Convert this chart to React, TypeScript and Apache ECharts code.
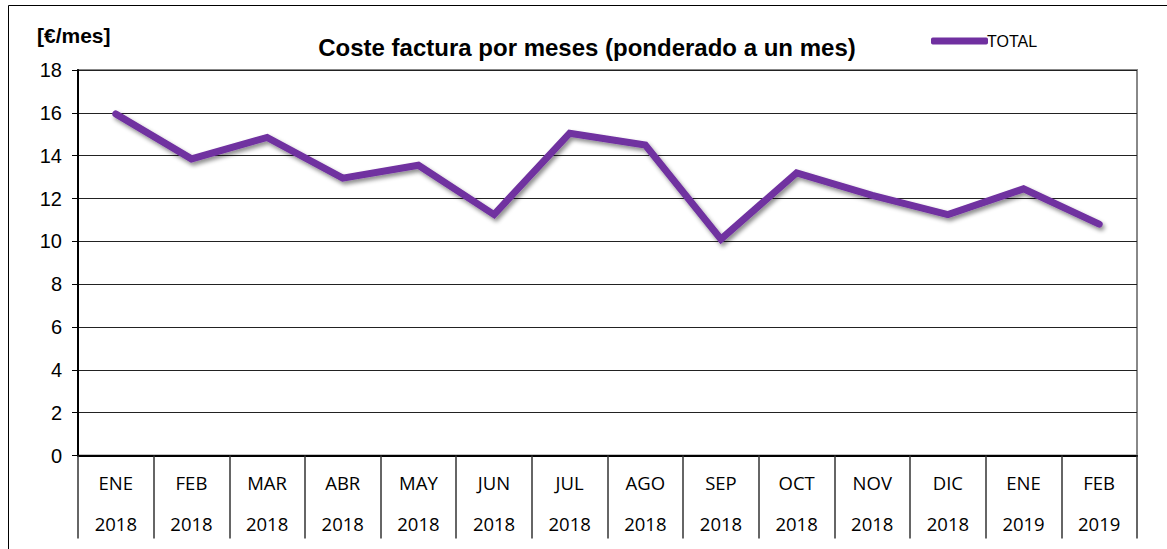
import React, { useEffect, useRef } from "react";
import * as echarts from "echarts";

const months = ["ENE", "FEB", "MAR", "ABR", "MAY", "JUN", "JUL", "AGO", "SEP", "OCT", "NOV", "DIC", "ENE", "FEB"];
const years = ["2018", "2018", "2018", "2018", "2018", "2018", "2018", "2018", "2018", "2018", "2018", "2018", "2019", "2019"];
const totalValues = [15.95, 13.85, 14.85, 12.95, 13.55, 11.25, 15.05, 14.5, 10.1, 13.2, 12.15, 11.25, 12.45, 10.8];
const yTicks = { min: 0, max: 18, interval: 2 };

const title = "Coste factura por meses (ponderado a un mes)";
const unitLabel = "[€/mes]";
const seriesName = "TOTAL";

export default function App() {
  const ref = useRef<HTMLDivElement>(null);
  useEffect(() => {
    if (!ref.current) return;
    const chart = echarts.init(ref.current, undefined, { renderer: "svg" });
    const categories = months.map((m, i) => m + "\n" + years[i]);
    chart.setOption({
      animation: false,
      backgroundColor: "#fff",
      title: {
        text: title,
        left: 582,
        textAlign: "center",
        top: 30,
        textStyle: { fontFamily: "Liberation Sans, Arial", fontWeight: "bold", fontSize: 24, color: "#000" },
      },
      legend: {
        left: 926,
        top: 28,
        icon: "roundRect",
        itemWidth: 57,
        itemHeight: 7,
        itemGap: 0,
        textStyle: { fontFamily: "Liberation Sans, Arial", fontSize: 16, color: "#000", padding: [0, 0, 0, -6] },
        data: [{ name: seriesName, itemStyle: { color: "#7030A0" } }],
      },
      graphic: [
        {
          type: "rect",
          shape: { x: 8.5, y: 5.5, width: 1200, height: 600 },
          style: { fill: "none", stroke: "#000", lineWidth: 1 },
          silent: true,
        },
        {
          type: "text",
          left: 37,
          top: 25,
          style: { text: unitLabel, font: "bold 21px 'Liberation Sans', Arial", fill: "#000" },
        },
      ],
      grid: {
        left: 78,
        right: 30,
        top: 70,
        bottom: 93.5,
        show: true,
        borderColor: "#888",
        borderWidth: 2,
      },
      xAxis: {
        type: "category",
        data: categories,
        boundaryGap: true,
        axisLine: { show: true, lineStyle: { color: "#000", width: 2 } },
        axisTick: { show: true, interval: 0, length: 83, lineStyle: { color: "#333", width: 1.5 } },
        axisLabel: {
          interval: 0,
          margin: 6,
          fontFamily: "Open Sans, Carlito, Calibri, sans-serif",
          fontSize: 18.5,
          lineHeight: 41,
          color: "#000",
        },
        splitLine: { show: false },
      },
      yAxis: {
        type: "value",
        min: yTicks.min,
        max: yTicks.max,
        interval: yTicks.interval,
        axisLine: { show: true, lineStyle: { color: "#000", width: 2 } },
        axisTick: { show: true, length: 6, lineStyle: { color: "#000" } },
        axisLabel: { fontFamily: "Liberation Sans, Arial", fontSize: 20, color: "#000", margin: 16 },
        splitLine: { show: true, lineStyle: { color: "#222", width: 1 } },
      },
      series: [
        {
          name: seriesName,
          type: "line",
          data: totalValues,
          symbol: "none",
          lineStyle: {
            color: "#7030A0",
            width: 7,
            cap: "round",
            join: "miter",
            shadowColor: "rgba(0,0,0,0.45)",
            shadowBlur: 4,
            shadowOffsetX: 2,
            shadowOffsetY: 3,
          },
          itemStyle: { color: "#7030A0" },
        },
      ],
    });
    return () => chart.dispose();
  }, []);
  return <div ref={ref} style={{ position: "absolute", left: 0, top: 0, width: 1167, height: 549 }} />;
}
